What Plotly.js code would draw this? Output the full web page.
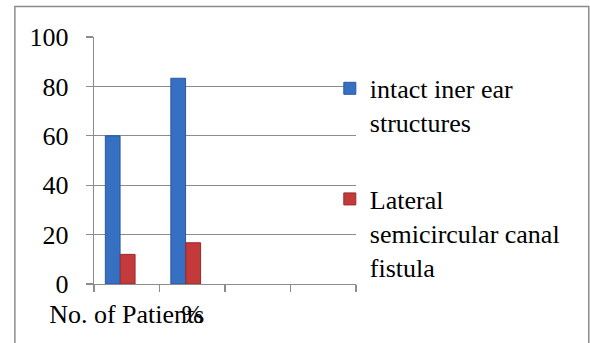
<!DOCTYPE html>
<html>
<head>
<meta charset="utf-8">
<script src="https://cdn.plot.ly/plotly-3.0.1.min.js"></script>
</head>
<body style="margin:0;background:#fff">
<div id="chart" style="width:590px;height:343px"></div>
<script>
// Data
const categories = ["No. of Patients", "%"];
const allSlots = ["No. of Patients", "%", " ", "  "];
const seriesNames = ["intact iner ear<br>structures", "Lateral<br>semicircular canal<br>fistula"];
const intactValues = [60, 83.3];
const fistulaValues = [12, 16.7];
const yTicks = [0, 20, 40, 60, 80, 100];

const grey = "#8c8c8c";
const serifFont = {family: "Liberation Serif", size: 26, color: "#000000"};

const traces = [
  {
    type: "bar", x: categories, y: intactValues, name: seriesNames[0],
    marker: {color: "#3670c2", line: {color: "#2a589c", width: 1}},
    width: 0.225, offset: -0.327, legendgroup: "a", hoverinfo: "none"
  },
  {
    type: "bar", x: categories, y: fistulaValues, name: seriesNames[1],
    marker: {color: "#c23a3a", line: {color: "#9c2a2a", width: 1}},
    width: 0.225, offset: -0.098, legendgroup: "b", hoverinfo: "none"
  }
];

const layout = {
  width: 590, height: 343,
  margin: {l: 94, r: 234.4, t: 37.4, b: 59, pad: 0},
  paper_bgcolor: "#ffffff", plot_bgcolor: "#ffffff",
  showlegend: true,
  barmode: "group",
  xaxis: {
    type: "category", categoryorder: "array", categoryarray: allSlots,
    range: [-0.5, 3.5], tickson: "boundaries", ticks: "outside", ticklen: 7,
    tickcolor: grey, tickwidth: 1.3, showgrid: false, showline: true,
    linecolor: grey, linewidth: 1.3, zeroline: false, fixedrange: true,
    tickangle: 0, automargin: false, ticklabelstandoff: 6,
    tickfont: serifFont
  },
  yaxis: {
    range: [0, 100], tickvals: yTicks, ticks: "outside", ticklen: 7,
    tickcolor: grey, tickwidth: 1.3, showgrid: true, gridcolor: grey,
    gridwidth: 1.3, showline: true, linecolor: grey, linewidth: 1.3,
    zeroline: false, ticklabelstandoff: 12, fixedrange: true,
    tickfont: serifFont
  },
  legend: {
    x: 0.90, xanchor: "left", y: 0.887, yanchor: "top",
    traceorder: "grouped", tracegroupgap: 40, valign: "top",
    font: serifFont,
    bgcolor: "rgba(0,0,0,0)", itemwidth: 30
  },
  shapes: [{
    type: "rect", xref: "paper", yref: "paper",
    x0: (15 - 94) / 261.6, x1: (588 - 94) / 261.6,
    y0: (284 - 360) / 246.6, y1: (284 - 7) / 246.6,
    line: {color: grey, width: 1.5}, fillcolor: "rgba(0,0,0,0)", layer: "below"
  }]
};

Plotly.newPlot("chart", traces, layout, {displayModeBar: false, staticPlot: true});
</script>
</body>
</html>
